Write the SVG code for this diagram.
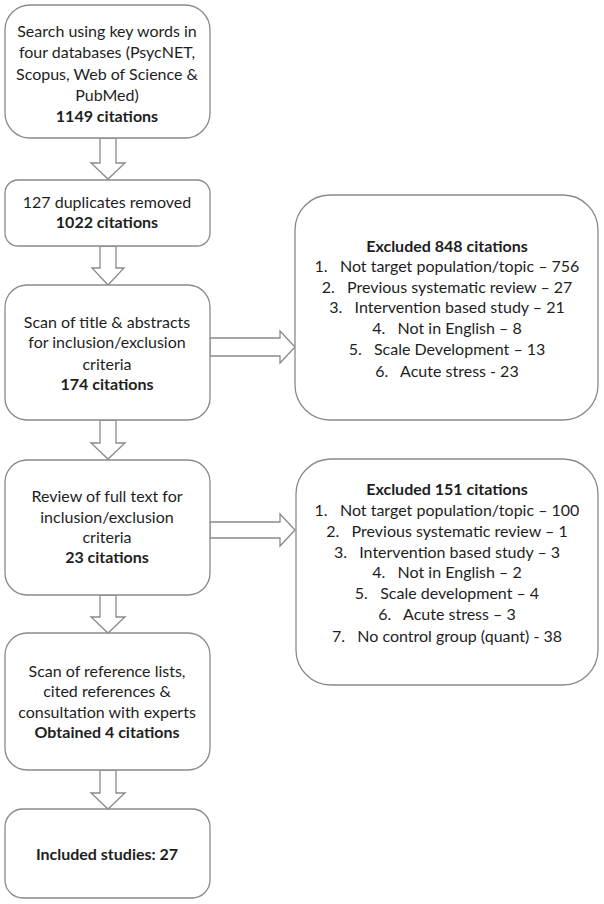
<svg xmlns="http://www.w3.org/2000/svg" width="604" height="904" viewBox="0 0 604 904">
<style>
.box{fill:#fff;stroke:#8a8a8a;stroke-width:1.3}
.arr{fill:#fff;stroke:#8a8a8a;stroke-width:1.3;stroke-linejoin:miter}
text{font-family:Lato,"Liberation Sans",sans-serif;font-size:16px;fill:#1e1e1e;text-anchor:middle;white-space:pre}
.b{font-weight:bold}
</style>
<rect width="604" height="904" fill="#fff"/>
<g id="connectors">
<polygon class="arr" points="100,138 116,138 116,163 125,163 108,179 91,163 100,163"/>
<polygon class="arr" points="100,246 116,246 116,268 124,268 108,285 92,268 100,268"/>
<polygon class="arr" points="100,420 116,420 116,443 125,443 108,459 91,443 100,443"/>
<polygon class="arr" points="100,595 116,595 116,617 125,617 108,633 91,617 100,617"/>
<polygon class="arr" points="100,770 116,770 116,793 125,793 108,809 91,793 100,793"/>
<polygon class="arr" points="210,338 280,338 280,331 295,347 280,363 280,356 210,356"/>
<polygon class="arr" points="210,522 280,522 280,514 295,530 280,546 280,538 210,538"/>
</g>
<g id="n1">
<rect class="box" x="5" y="5" width="205" height="133" rx="25"/>
<text x="107" y="37">Search using key words in</text>
<text x="107" y="58">four databases (PsycNET,</text>
<text x="107" y="80">Scopus, Web of Science &amp;</text>
<text x="107" y="101">PubMed)</text>
<text x="107" y="122" class="b">1149 citations</text>
</g>
<g id="n2">
<rect class="box" x="5" y="180" width="205" height="66" rx="13"/>
<text x="107" y="208">127 duplicates removed</text>
<text x="107" y="228" class="b">1022 citations</text>
</g>
<g id="n3">
<rect class="box" x="5" y="285" width="205" height="135" rx="22"/>
<text x="107" y="328">Scan of title &amp; abstracts</text>
<text x="107" y="348">for inclusion/exclusion</text>
<text x="107" y="370">criteria</text>
<text x="107" y="390" class="b">174 citations</text>
</g>
<g id="n4">
<rect class="box" x="5" y="460" width="205" height="135" rx="22"/>
<text x="107" y="502">Review of full text for</text>
<text x="107" y="523">inclusion/exclusion</text>
<text x="107" y="543">criteria</text>
<text x="107" y="563" class="b">23 citations</text>
</g>
<g id="n5">
<rect class="box" x="5" y="633" width="205" height="137" rx="22"/>
<text x="107" y="677">Scan of reference lists,</text>
<text x="107" y="697">cited references &amp;</text>
<text x="107" y="718">consultation with experts</text>
<text x="107" y="738" class="b">Obtained 4 citations</text>
</g>
<g id="n6">
<rect class="box" x="5" y="809" width="205" height="89" rx="18"/>
<text x="107" y="860" class="b">Included studies: 27</text>
</g>
<g id="x1" xml:space="preserve">
<rect class="box" x="295" y="195" width="303" height="225" rx="35"/>
<text x="447" y="252" class="b">Excluded 848 citations</text>
<text x="447" y="272">1.   Not target population/topic – 756</text>
<text x="447" y="293">2.   Previous systematic review – 27</text>
<text x="447" y="313">3.   Intervention based study – 21</text>
<text x="447" y="334">4.   Not in English – 8</text>
<text x="447" y="355">5.   Scale Development – 13</text>
<text x="447" y="377">6.   Acute stress - 23</text>
</g>
<g id="x2" xml:space="preserve">
<rect class="box" x="296" y="459" width="302" height="226" rx="35"/>
<text x="447" y="495" class="b">Excluded 151 citations</text>
<text x="447" y="516">1.   Not target population/topic – 100</text>
<text x="447" y="537">2.   Previous systematic review – 1</text>
<text x="447" y="558">3.   Intervention based study – 3</text>
<text x="447" y="578">4.   Not in English – 2</text>
<text x="447" y="599">5.   Scale development – 4</text>
<text x="447" y="620">6.   Acute stress – 3</text>
<text x="447" y="642">7.   No control group (quant) - 38</text>
</g>
</svg>
